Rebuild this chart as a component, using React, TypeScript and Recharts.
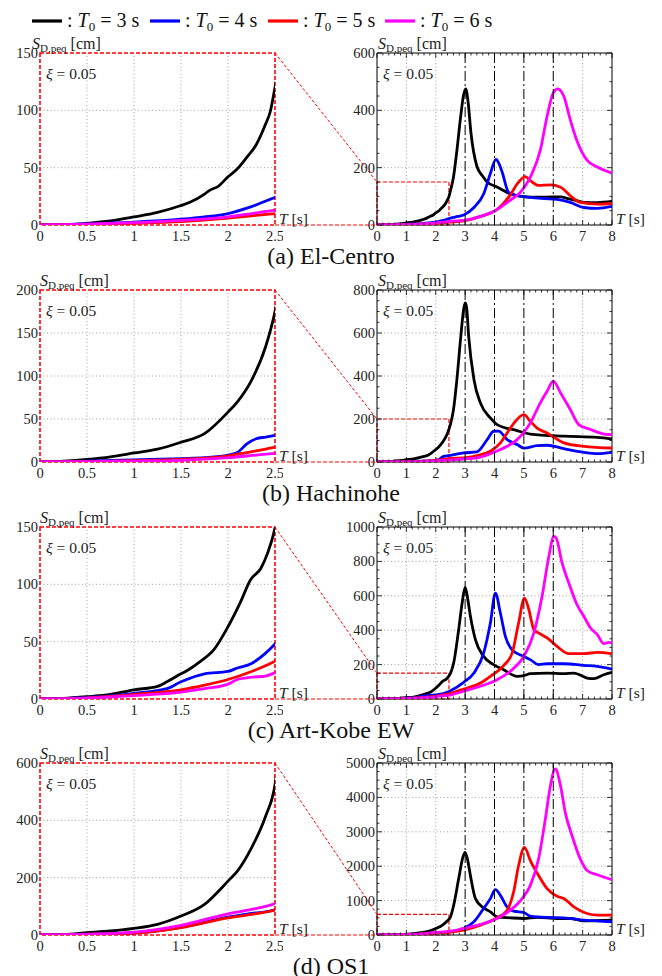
import React from 'react';
import { LineChart, Line, XAxis, YAxis, ReferenceLine, ReferenceArea } from 'recharts';

type Pt = [number, number];

// ---------- data : [T (s), S_D,peq (cm)] ----------
// (a) El-Centro
const elCentroT3: Pt[] = [[0,0],[0.25,0.3],[0.5,1.5],[0.75,3.5],[1,7],[1.25,11],[1.5,17],[1.6,20],[1.75,27],[1.8,30],[1.9,34],[2.0,42],[2.1,49],[2.2,59],[2.3,70],[2.4,88],[2.45,99],[2.5,120],[2.6,165],[2.72,260],[2.85,380],[2.95,455],[3.02,475],[3.1,430],[3.2,320],[3.4,205],[3.6,170],[3.75,150],[4.1,132],[4.55,108],[5.0,99],[5.5,97],[6.0,98],[6.25,98],[6.5,92],[6.8,85],[7.05,79],[7.5,78],[8,82]];
const elCentroT4: Pt[] = [[0,0],[0.5,1],[1,2.5],[1.5,5],[1.75,7],[2.0,10],[2.25,16],[2.5,24],[2.75,30],[2.95,35],[3.3,61],[3.63,108],[3.86,180],[4.05,229],[4.15,215],[4.26,185],[4.48,114],[4.77,102],[5.22,96],[5.7,92],[6.13,89],[6.58,79],[7.04,61],[7.5,58],[8,65]];
const elCentroT5: Pt[] = [[0,0],[0.5,0.5],[1,1.5],[1.5,3],[2.0,6],[2.25,8],[2.5,10],[2.95,14],[3.5,29],[4.1,55],[4.54,105],[4.77,143],[5.05,169],[5.22,155],[5.5,138],[5.9,140],[6.25,132],[6.58,102],[6.92,79],[7.5,73],[8,75]];
const elCentroT6: Pt[] = [[0,0],[0.5,0.7],[1,2],[1.5,4],[2.0,7],[2.25,10],[2.5,13],[2.95,16],[3.5,29],[4.1,55],[4.54,87],[4.88,114],[5.22,167],[5.56,261],[5.79,379],[6.0,461],[6.15,475],[6.36,449],[6.58,367],[6.8,296],[7.15,226],[7.5,202],[8,181]];

// (b) Hachinohe
const hachinoheT3: Pt[] = [[0,0],[0.25,1],[0.5,3],[0.75,6],[1,10.5],[1.25,15],[1.5,23],[1.75,33],[2.0,58],[2.1,70],[2.25,95],[2.4,134],[2.5,175],[2.6,240],[2.72,384],[2.85,580],[2.95,710],[3.0,740],[3.05,720],[3.12,585],[3.3,384],[3.52,275],[3.86,205],[4.09,174],[4.77,146],[5.22,130],[6.36,120],[7.5,115],[8,107]];
const hachinoheT4: Pt[] = [[0,0],[0.5,1],[1,2.5],[1.5,4],[1.75,5],[2.0,8],[2.1,11],[2.2,21],[2.3,27],[2.4,29],[2.5,31],[2.95,42],[3.4,47],[3.75,104],[3.97,143],[4.14,144],[4.43,104],[4.77,81],[5.0,65],[5.45,76],[5.79,78],[6.36,62],[7.04,45],[7.5,39],[8,45]];
const hachinoheT5: Pt[] = [[0,0],[0.5,0.5],[1,1.5],[1.5,3],[2.0,7],[2.2,11],[2.4,15],[2.5,17],[2.95,19],[3.4,30],[3.86,50],[4.2,89],[4.43,135],[4.71,189],[5.0,220],[5.22,189],[5.45,158],[5.79,135],[6.36,89],[7.04,73],[8,65]];
const hachinoheT6: Pt[] = [[0,0],[0.5,0.3],[1,1],[1.5,2],[2.0,5],[2.3,8],[2.5,10],[2.95,14],[3.52,23],[3.97,45],[4.43,73],[4.77,104],[5.22,182],[5.56,275],[5.79,329],[6.0,376],[6.25,321],[6.58,244],[6.87,174],[7.27,151],[7.73,130],[8,127]];

// (c) Art-Kobe EW
const kobeT3: Pt[] = [[0,0],[0.25,0.5],[0.5,2],[0.75,4],[1,8],[1.25,11],[1.35,15],[1.5,22],[1.57,25],[1.71,33],[1.85,43],[2.0,63],[2.13,84],[2.24,104],[2.35,114],[2.42,127],[2.5,149],[2.61,209],[2.78,403],[2.9,560],[3.0,649],[3.08,590],[3.18,481],[3.35,345],[3.63,248],[3.97,200],[4.31,170],[4.77,132],[5.0,136],[5.22,147],[5.79,151],[6.36,147],[6.7,151],[7.15,122],[7.38,118],[7.72,141],[8,155]];
const kobeT4: Pt[] = [[0,0],[0.5,1.5],[1,5],[1.35,9],[1.5,15],[1.75,22],[2.0,24],[2.1,27],[2.25,31],[2.4,40],[2.5,48],[2.95,97],[3.3,151],[3.63,267],[3.86,442],[4.03,616],[4.2,500],[4.37,364],[4.65,277],[5.0,248],[5.22,229],[5.5,200],[5.79,205],[6.36,205],[7.04,196],[7.5,190],[8,174]];
const kobeT5: Pt[] = [[0,0],[0.5,1],[1,4],[1.5,8],[1.75,12],[2.0,17],[2.25,24],[2.5,33],[2.95,58],[3.52,93],[3.86,132],[4.31,194],[4.6,267],[4.82,442],[5.02,587],[5.17,519],[5.34,403],[5.5,384],[5.79,355],[6.13,306],[6.53,264],[7.04,264],[7.5,271],[8,264]];
const kobeT6: Pt[] = [[0,0],[0.5,0.7],[1,3],[1.5,6],[1.75,9],[2.0,13],[2.1,17],[2.25,19],[2.4,20],[2.5,23],[2.95,45],[3.52,74],[4.09,112],[4.6,170],[5.0,248],[5.34,384],[5.62,597],[5.85,829],[6.02,946],[6.1,936],[6.3,791],[6.53,674],[6.81,548],[7.04,481],[7.27,413],[7.5,374],[7.72,322],[7.89,329],[8,326]];

// (d) OS1
const os1T3: Pt[] = [[0,0],[0.25,2],[0.5,8],[0.75,14],[1,23],[1.25,37],[1.5,66],[1.75,107],[2.0,188],[2.1,223],[2.25,304],[2.4,414],[2.5,524],[2.61,865],[2.78,1635],[2.92,2250],[3.0,2404],[3.08,2200],[3.18,1730],[3.35,1058],[3.63,788],[3.86,673],[4.09,529],[4.54,500],[5.0,480],[5.45,510],[6.13,480],[6.58,480],[7.04,413],[8,433]];
const os1T4: Pt[] = [[0,0],[0.5,2],[1,7],[1.5,27],[2.0,62],[2.25,75],[2.5,88],[2.95,192],[3.3,385],[3.63,770],[3.86,1058],[4.03,1317],[4.2,1154],[4.43,817],[4.65,692],[5.0,654],[5.22,548],[5.79,510],[6.36,500],[7.04,433],[8,385]];
const os1T5: Pt[] = [[0,0],[0.5,2],[1,7],[1.5,26],[2.0,60],[2.25,72],[2.5,87],[2.95,144],[3.52,288],[4.09,500],[4.43,721],[4.65,1250],[4.82,2019],[5.02,2548],[5.22,2163],[5.5,1730],[5.79,1346],[6.13,1125],[6.36,1058],[6.7,817],[7.15,625],[7.5,577],[8,577]];
const os1T6: Pt[] = [[0,0],[0.5,3],[1,10],[1.5,34],[2.0,74],[2.25,89],[2.5,110],[2.95,192],[3.52,308],[4.09,480],[4.54,721],[4.94,1058],[5.22,1442],[5.5,2212],[5.73,3365],[5.9,4327],[6.07,4827],[6.25,4327],[6.41,3558],[6.64,2885],[6.92,2212],[7.15,1875],[7.5,1750],[8,1606]];

const quakeSeries: Pt[][][] = [
  [elCentroT3, elCentroT4, elCentroT5, elCentroT6],
  [hachinoheT3, hachinoheT4, hachinoheT5, hachinoheT6],
  [kobeT3, kobeT4, kobeT5, kobeT6],
  [os1T3, os1T4, os1T5, os1T6],
];

const seriesT0 = [3, 4, 5, 6];
const seriesColors = ['#000000', '#0000ff', '#ff0000', '#ff00ff'];
const captions = ['(a) El-Centro', '(b) Hachinohe', '(c) Art-Kobe EW', '(d) OS1'];

const leftXTicks = [0, 0.5, 1, 1.5, 2, 2.5];
const leftXMax = 2.5;
const leftYMax = [150, 200, 150, 600];
const leftYTicks = [[0, 50, 100, 150], [0, 50, 100, 150, 200], [0, 50, 100, 150], [0, 200, 400, 600]];

const rightXTicks = [0, 1, 2, 3, 4, 5, 6, 7, 8];
const rightXMax = 8;
const rightYMax = [600, 800, 1000, 5000];
const rightYTicks = [[0, 200, 400, 600], [0, 200, 400, 600, 800], [0, 200, 400, 600, 800, 1000], [0, 1000, 2000, 3000, 4000, 5000]];
const rightYMinorStep = [50, 50, 50, 250];
const rightXMinorStep = 0.2;
const zoomBoxT = 2.45;

// ---------- layout ----------
const FIG_W = 662;
const FIG_H = 976;
const PLOT_W = 235;
const PLOT_H = 172;
const COL_X = [40, 377];
const ROW_Y = [53, 290, 527, 763];
const AX_W = 40;
const PAD_T = 14;
const PAD_R = 8;
const AX_H = 24;
const FONT = '"Liberation Serif", "Times New Roman", Times, serif';
const TICK_FS = 14.5;

const toObjs = (pts: Pt[]) => pts.map(([T, S]) => ({ T, S }));
const near = (a: number, b: number) => Math.abs(a - b) < 1e-6;
const subdiv = (max: number, step: number) => {
  const out: number[] = [];
  const n = Math.round(max / step);
  for (let i = 0; i <= n; i++) out.push(Math.round(i * step * 1000) / 1000);
  return out;
};

function xTick(majors: number[], marks: boolean) {
  return (props: any) => {
    const { x, y, payload } = props;
    const v = payload.value as number;
    const major = majors.some((m) => near(m, v));
    const len = major ? 5 : 2.5;
    return (
      <g>
        {marks && <line x1={x} x2={x} y1={y} y2={y - len} stroke="#000" strokeWidth={0.8} />}
        {marks && <line x1={x} x2={x} y1={y - PLOT_H} y2={y - PLOT_H + len} stroke="#000" strokeWidth={0.8} />}
        {major && (
          <text x={x} y={y + 16} textAnchor="middle" fontSize={TICK_FS} fontFamily={FONT} fill="#222">
            {String(v)}
          </text>
        )}
      </g>
    );
  };
}

function yTick(majors: number[], marks: boolean) {
  return (props: any) => {
    const { x, y, payload } = props;
    const v = payload.value as number;
    const major = majors.some((m) => near(m, v));
    const len = major ? 5 : 2.5;
    return (
      <g>
        {marks && <line x1={x} x2={x + len} y1={y} y2={y} stroke="#000" strokeWidth={0.8} />}
        {marks && <line x1={x + PLOT_W} x2={x + PLOT_W - len} y1={y} y2={y} stroke="#000" strokeWidth={0.8} />}
        {major && (
          <text x={x - 2} y={y + 5} textAnchor="end" fontSize={TICK_FS} fontFamily={FONT} fill="#222">
            {String(v)}
          </text>
        )}
      </g>
    );
  };
}

const GRID = { stroke: '#8a8a8a', strokeDasharray: '1 2.5', strokeWidth: 0.8 };

function Panel({ row, zoom }: { row: number; zoom: boolean }) {
  const xMax = zoom ? leftXMax : rightXMax;
  const yMax = zoom ? leftYMax[row] : rightYMax[row];
  const xMajors = zoom ? leftXTicks : rightXTicks;
  const yMajors = zoom ? leftYTicks[row] : rightYTicks[row];
  const xTicksAll = zoom ? leftXTicks : subdiv(rightXMax, rightXMinorStep);
  const yTicksAll = zoom ? leftYTicks[row] : subdiv(rightYMax[row], rightYMinorStep[row]);
  const vGrid = zoom ? leftXTicks.slice(1, -1) : rightXTicks.filter((t) => t > 0 && t < rightXMax && !seriesT0.includes(t));
  const hGrid = yMajors.slice(1, -1);
  const left = COL_X[zoom ? 0 : 1] - AX_W;
  const top = ROW_Y[row] - PAD_T;
  return (
    <div style={{ position: 'absolute', left, top }}>
      <LineChart
        width={AX_W + PLOT_W + PAD_R}
        height={PAD_T + PLOT_H + AX_H}
        margin={{ top: PAD_T, right: PAD_R, bottom: 0, left: 0 }}
      >
        <XAxis
          type="number"
          dataKey="T"
          domain={[0, xMax]}
          ticks={xTicksAll}
          interval={0}
          allowDataOverflow
          height={AX_H}
          tickSize={0}
          tickMargin={0}
          axisLine={false}
          tickLine={false}
          tick={xTick(xMajors, !zoom)}
        />
        <YAxis
          type="number"
          domain={[0, yMax]}
          ticks={yTicksAll}
          interval={0}
          allowDataOverflow
          width={AX_W}
          tickSize={0}
          tickMargin={0}
          axisLine={false}
          tickLine={false}
          tick={yTick(yMajors, !zoom)}
        />
        {vGrid.map((t) => (
          <ReferenceLine key={'v' + t} x={t} {...GRID} />
        ))}
        {hGrid.map((s) => (
          <ReferenceLine key={'h' + s} y={s} {...GRID} />
        ))}
        {!zoom && (
          <ReferenceArea x1={0} x2={zoomBoxT} y1={0} y2={leftYMax[row]} fill="none" stroke="#ff0000" strokeWidth={1.2} strokeDasharray="4 2" />
        )}
        {quakeSeries[row].map((pts, i) => (
          <Line
            key={i}
            data={toObjs(pts)}
            dataKey="S"
            type="monotone"
            stroke={seriesColors[i]}
            strokeWidth={2.8}
            dot={false}
            activeDot={false}
            isAnimationActive={false}
          />
        ))}
        {!zoom &&
          seriesT0.map((t) => (
            <ReferenceLine key={'r' + t} x={t} stroke="#000" strokeWidth={1} strokeDasharray="10 3 2 3" />
          ))}
        {zoom ? (
          <ReferenceArea x1={0} x2={xMax} y1={0} y2={yMax} fill="none" stroke="#ff0000" strokeWidth={1.6} strokeDasharray="4 2" />
        ) : (
          <ReferenceArea x1={0} x2={xMax} y1={0} y2={yMax} fill="none" stroke="#000" strokeWidth={1} />
        )}
      </LineChart>
    </div>
  );
}

function SLabel({ x, y }: { x: number; y: number }) {
  return (
    <text x={x} y={y} fontSize={16} fontFamily={FONT} fill="#222">
      <tspan fontStyle="italic">S</tspan>
      <tspan fontSize={11} dy={3}>D,peq</tspan>
      <tspan dy={-3}> [cm]</tspan>
    </text>
  );
}

function Overlay() {
  const legendX = [32, 150, 268, 385];
  return (
    <svg width={FIG_W} height={FIG_H} style={{ position: 'absolute', left: 0, top: 0, pointerEvents: 'none' }}>
      {seriesT0.map((t, i) => (
        <g key={'lg' + i}>
          <line x1={legendX[i]} x2={legendX[i] + 30} y1={21} y2={21} stroke={seriesColors[i]} strokeWidth={3.2} />
          <text x={legendX[i] + 35} y={27} fontSize={20} fontFamily={FONT} fill="#111">
            {': '}
            <tspan fontStyle="italic">T</tspan>
            <tspan fontSize={13} dy={4}>0</tspan>
            <tspan dy={-4}>{' = ' + t + ' s'}</tspan>
          </text>
        </g>
      ))}
      {ROW_Y.map((top, r) => {
        const bottom = top + PLOT_H;
        const xL = COL_X[0] + PLOT_W;
        const xR = COL_X[1];
        const yBox = top + PLOT_H * (1 - leftYMax[r] / rightYMax[r]);
        return (
          <g key={'row' + r}>
            <line x1={xL} y1={top} x2={xR} y2={yBox} stroke="#ff0000" strokeWidth={1} strokeDasharray="3 2" />
            <line x1={xL} y1={bottom} x2={xR} y2={bottom} stroke="#ff0000" strokeWidth={1.2} strokeDasharray="4 2" />
            <SLabel x={r === 0 ? 32 : 40} y={top - 4} />
            <SLabel x={COL_X[1] + 1} y={top - 4} />
            {COL_X.map((cx, c) => (
              <g key={'c' + c}>
                <text x={cx + 6} y={top + 26} fontSize={15.5} fontFamily={FONT} fill="#222">
                  <tspan fontStyle="italic">ξ</tspan>
                  {' = 0.05'}
                </text>
                <text x={cx + PLOT_W + 4} y={bottom - 1} fontSize={15.5} fontFamily={FONT} fill="#222">
                  <tspan fontStyle="italic">T</tspan>
                  {' [s]'}
                </text>
              </g>
            ))}
            <text x={331} y={bottom + 39} textAnchor="middle" fontSize={24} fontFamily={FONT} fill="#111">
              {captions[r]}
            </text>
          </g>
        );
      })}
    </svg>
  );
}

export default function App() {
  return (
    <div
      style={{
        position: 'absolute',
        left: 0,
        top: 0,
        width: FIG_W,
        height: FIG_H,
        background: '#fff',
        overflow: 'hidden',
        fontFamily: FONT,
      }}
    >
      {ROW_Y.map((_, r) => (
        <React.Fragment key={r}>
          <Panel row={r} zoom={true} />
          <Panel row={r} zoom={false} />
        </React.Fragment>
      ))}
      <Overlay />
    </div>
  );
}
